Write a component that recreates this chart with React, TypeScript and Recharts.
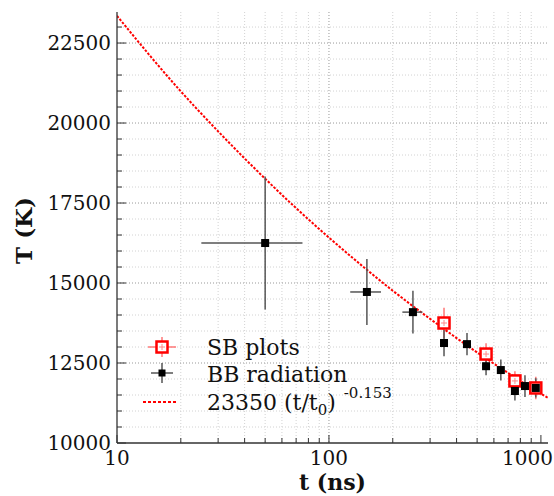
import {
  ComposedChart,
  Line,
  Scatter,
  ErrorBar,
  XAxis,
  YAxis,
  CartesianGrid,
  Legend,
} from "recharts";

// SB plots (red open squares)
const sbTime = [349, 551, 754, 946];
const sbTemp = [13750, 12780, 11940, 11720];
const sbTempErr = [480, 340, 300, 350];
const sbTimeErr = [17, 27, 37, 45];

// BB radiation (black squares)
const bbTime = [50, 151, 249, 349, 448, 551, 647, 754, 841, 946];
const bbTemp = [16250, 14720, 14090, 13125, 13090, 12400, 12280, 11625, 11780, 11720];
const bbTempErr = [2075, 1030, 670, 410, 350, 280, 330, 300, 340, 300];
const bbTimeErr = [25, 25, 27, 15, 20, 22, 25, 30, 35, 40];

// fit curve
const fitTime = [10, 20, 30, 50, 70, 100, 150, 200, 300, 500, 700, 1000, 1080];
const fitTemp = [23350, 20990, 19740, 18260, 17340, 16420, 15430, 14760, 13880, 12830, 12190, 11540, 11410];

const xTicks = [10, 20, 30, 40, 50, 60, 70, 80, 90, 100, 200, 300, 400, 500, 600, 700, 800, 900, 1000];
const xMajor = [10, 100, 1000];
const yTicks = [
  10000, 10500, 11000, 11500, 12000, 12500, 13000, 13500, 14000, 14500, 15000, 15500, 16000,
  16500, 17000, 17500, 18000, 18500, 19000, 19500, 20000, 20500, 21000, 21500, 22000, 22500, 23000,
];
const yMajor = [10000, 12500, 15000, 17500, 20000, 22500];

const sbData = sbTime.map((t, i) => ({ t, T: sbTemp[i], errT: sbTempErr[i], errt: sbTimeErr[i] }));
const bbData = bbTime.map((t, i) => ({ t, T: bbTemp[i], errT: bbTempErr[i], errt: bbTimeErr[i] }));
const fitData = fitTime.map((t, i) => ({ t, T: fitTemp[i] }));

const FONT = "DejaVu Serif";
const AXIS = "#333";

function SbMarker({ cx, cy }: any) {
  return (
    <g>
      <rect x={cx - 5.5} y={cy - 5.5} width={11} height={11} fill="#fff" stroke="#f00" strokeWidth={2.5} />
      <line x1={cx - 3} x2={cx + 3} y1={cy} y2={cy} stroke="#f88" strokeWidth={1} />
      <line x1={cx} x2={cx} y1={cy - 3} y2={cy + 3} stroke="#f88" strokeWidth={1} />
    </g>
  );
}

function BbMarker({ cx, cy }: any) {
  return <rect x={cx - 4} y={cy - 4} width={8} height={8} fill="#000" />;
}

function BottomTick({ x, y, payload }: any) {
  const v = payload.value;
  const major = xMajor.includes(v);
  const last = v === 1000;
  return (
    <g>
      <line x1={x} x2={x} y1={y} y2={y - (major ? 8 : 5)} stroke={AXIS} />
      {major && (
        <text
          x={last ? x + 12 : x}
          y={y + 22}
          textAnchor={last ? "end" : "middle"}
          fontFamily={FONT}
          fontSize={20}
          fill="#111"
        >
          {v}
        </text>
      )}
    </g>
  );
}

function TopTick({ x, y, payload }: any) {
  const major = xMajor.includes(payload.value);
  return <line x1={x} x2={x} y1={y} y2={y + (major ? 8 : 5)} stroke={AXIS} />;
}

function LeftTick({ x, y, payload }: any) {
  const v = payload.value;
  const major = yMajor.includes(v);
  return (
    <g>
      <line x1={x} x2={x + (major ? 9 : 5)} y1={y} y2={y} stroke={AXIS} />
      {major && (
        <text x={x - 6} y={y + 7} textAnchor="end" fontFamily={FONT} fontSize={20} fill="#111">
          {v}
        </text>
      )}
    </g>
  );
}

function RightTick({ x, y, payload }: any) {
  const major = yMajor.includes(payload.value);
  return <line x1={x} x2={x - (major ? 9 : 5)} y1={y} y2={y} stroke={AXIS} />;
}

function LegendBox() {
  return (
    <svg width={270} height={100} style={{ display: "block" }}>
      <g>
        <line x1={8} x2={36} y1={22} y2={22} stroke="#f77" strokeWidth={1.5} />
        <line x1={22} x2={22} y1={12} y2={32} stroke="#f77" strokeWidth={1.5} />
        <SbMarker cx={22} cy={22} />
        <text x={67} y={30} fontFamily={FONT} fontSize={22} fill="#111">
          SB plots
        </text>
      </g>
      <g>
        <line x1={11} x2={33} y1={48} y2={48} stroke="#555" strokeWidth={1.5} />
        <line x1={22} x2={22} y1={38} y2={58} stroke="#555" strokeWidth={1.5} />
        <rect x={18.5} y={44.5} width={7} height={7} fill="#000" />
        <text x={67} y={57} fontFamily={FONT} fontSize={22} fill="#111">
          BB radiation
        </text>
      </g>
      <g>
        <line x1={3} x2={38} y1={77} y2={77} stroke="#f00" strokeWidth={2} strokeDasharray="3 2" />
        <text x={67} y={85} fontFamily={FONT} fontSize={22} fill="#111">
          23350 (t/t
          <tspan fontSize={15} dy={5}>0</tspan>
          <tspan dy={-5}>)</tspan>
          <tspan fontSize={15} dx={8} dy={-12}>-0.153</tspan>
        </text>
      </g>
    </svg>
  );
}

export default function App() {
  return (
    <div style={{ position: "absolute", left: 0, top: 0, background: "#fff" }}>
      <ComposedChart width={554} height={496} margin={{ top: 12, right: 6, bottom: 0, left: 0 }}>
        <CartesianGrid
          horizontalValues={yTicks.filter((v) => !yMajor.includes(v))}
          verticalValues={xTicks.filter((v) => !xMajor.includes(v))}
          stroke="#d2d2d2"
          strokeDasharray="1 2"
        />
        <CartesianGrid
          horizontalValues={yMajor.slice(1)}
          verticalValues={[100]}
          stroke="#999"
          strokeDasharray="1 2"
        />
        <XAxis
          dataKey="t"
          type="number"
          scale="log"
          domain={[10, 1080]}
          allowDataOverflow
          ticks={xTicks}
          interval={0}
          height={53}
          tickSize={0}
          tickMargin={0}
          axisLine={{ stroke: AXIS, strokeWidth: 1.3 }}
          tick={(p: any) => <BottomTick {...p} />}
          label={(p: any) => {
            const vb = p.viewBox;
            return (
              <text
                x={vb.x + vb.width / 2}
                y={vb.y + 47}
                textAnchor="middle"
                fontFamily={FONT}
                fontWeight="bold"
                fontSize={22}
                fill="#111"
              >
                t (ns)
              </text>
            );
          }}
        />
        <XAxis
          xAxisId="top"
          orientation="top"
          dataKey="t"
          type="number"
          scale="log"
          domain={[10, 1080]}
          allowDataOverflow
          ticks={xTicks}
          interval={0}
          height={0}
          tickSize={0}
          tickMargin={0}
          axisLine={{ stroke: AXIS, strokeWidth: 1.3 }}
          tick={(p: any) => <TopTick {...p} />}
        />
        <YAxis
          type="number"
          domain={[10000, 23470]}
          allowDataOverflow
          ticks={yTicks}
          interval={0}
          width={117}
          tickSize={0}
          tickMargin={0}
          axisLine={{ stroke: AXIS, strokeWidth: 1.3 }}
          tick={(p: any) => <LeftTick {...p} />}
          label={(p: any) => {
            const vb = p.viewBox;
            const cy = vb.y + vb.height / 2 + 3;
            return (
              <text
                x={32}
                y={cy}
                transform={`rotate(-90, 32, ${cy})`}
                textAnchor="middle"
                fontFamily={FONT}
                fontWeight="bold"
                fontSize={23}
                fill="#111"
              >
                T (K)
              </text>
            );
          }}
        />
        <YAxis
          yAxisId="right"
          orientation="right"
          type="number"
          domain={[10000, 23470]}
          allowDataOverflow
          ticks={yTicks}
          interval={0}
          width={0}
          tickSize={0}
          tickMargin={0}
          axisLine={{ stroke: AXIS, strokeWidth: 1.3 }}
          tick={(p: any) => <RightTick {...p} />}
        />
        <Line
          data={fitData}
          dataKey="T"
          type="monotone"
          stroke="#f00"
          strokeWidth={2}
          strokeDasharray="2.5 1.5"
          dot={false}
          activeDot={false}
          isAnimationActive={false}
          legendType="none"
        />
        <Scatter
          data={sbData}
          dataKey="T"
          isAnimationActive={false}
          shape={(p: any) => <SbMarker cx={p.cx} cy={p.cy} />}
        >
          <ErrorBar dataKey="errT" direction="y" width={0} stroke="#f77" strokeWidth={1.5} />
          <ErrorBar dataKey="errt" direction="x" width={0} stroke="#f77" strokeWidth={1.5} />
        </Scatter>
        <Scatter
          data={bbData}
          dataKey="T"
          isAnimationActive={false}
          shape={(p: any) => <BbMarker cx={p.cx} cy={p.cy} />}
        >
          <ErrorBar dataKey="errT" direction="y" width={0} stroke="#555" strokeWidth={1.5} />
          <ErrorBar dataKey="errt" direction="x" width={0} stroke="#555" strokeWidth={1.5} />
        </Scatter>
        <Legend
          layout="vertical"
          align="center"
          verticalAlign="middle"
          content={() => <LegendBox />}
          wrapperStyle={{ position: "absolute", left: 140, top: 325, width: 270, height: 100 }}
        />
      </ComposedChart>
    </div>
  );
}
